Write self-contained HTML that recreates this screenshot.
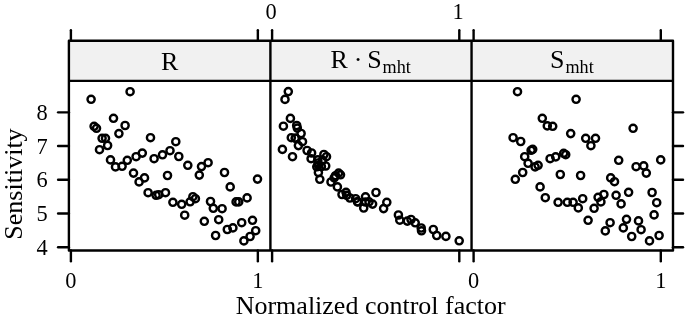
<!DOCTYPE html>
<html><head><meta charset="utf-8"><title>plot</title>
<style>
html,body{margin:0;padding:0;background:#fff;}
svg{display:block;font-family:"Liberation Serif",serif;fill:#000;}
.ln{stroke-linejoin:round;stroke:#000;stroke-width:2.4;fill:none;stroke-linecap:butt}
.tk{stroke-linecap:round}
.pt circle{fill:none;stroke:#000;stroke-width:2.4}
</style></head><body>
<svg width="685" height="320" viewBox="0 0 685 320">
<rect x="0" y="0" width="685" height="320" fill="#fff"/>
<rect x="68.9" y="40.8" width="604.1" height="40.10000000000001" fill="#f1f1f1"/>
<rect class="ln" x="68.9" y="40.8" width="604.1" height="209.7"/>
<line class="ln" x1="68.9" y1="80.9" x2="673" y2="80.9"/>
<line class="ln" x1="270.4" y1="40.8" x2="270.4" y2="250.5"/>
<line class="ln" x1="471.55" y1="40.8" x2="471.55" y2="250.5"/>
<line class="ln tk" x1="70.9" y1="40.8" x2="70.9" y2="30.3"/>
<line class="ln tk" x1="70.9" y1="250.5" x2="70.9" y2="261.3"/>
<line class="ln tk" x1="257.85" y1="40.8" x2="257.85" y2="30.3"/>
<line class="ln tk" x1="257.85" y1="250.5" x2="257.85" y2="261.3"/>
<line class="ln tk" x1="272.1" y1="40.8" x2="272.1" y2="30.3"/>
<line class="ln tk" x1="272.1" y1="250.5" x2="272.1" y2="261.3"/>
<line class="ln tk" x1="459.3" y1="40.8" x2="459.3" y2="30.3"/>
<line class="ln tk" x1="459.3" y1="250.5" x2="459.3" y2="261.3"/>
<line class="ln tk" x1="473.6" y1="40.8" x2="473.6" y2="30.3"/>
<line class="ln tk" x1="473.6" y1="250.5" x2="473.6" y2="261.3"/>
<line class="ln tk" x1="660.8" y1="40.8" x2="660.8" y2="30.3"/>
<line class="ln tk" x1="660.8" y1="250.5" x2="660.8" y2="261.3"/>
<line class="ln tk" x1="68.9" y1="112.35" x2="58.1" y2="112.35"/>
<line class="ln tk" x1="673" y1="112.35" x2="683.0" y2="112.35"/>
<text transform="translate(42,119.8) scale(0.945,1)" font-size="23.7" text-anchor="middle">8</text>
<line class="ln tk" x1="68.9" y1="146.06" x2="58.1" y2="146.06"/>
<line class="ln tk" x1="673" y1="146.06" x2="683.0" y2="146.06"/>
<text transform="translate(42,153.51) scale(0.945,1)" font-size="23.7" text-anchor="middle">7</text>
<line class="ln tk" x1="68.9" y1="179.78" x2="58.1" y2="179.78"/>
<line class="ln tk" x1="673" y1="179.78" x2="683.0" y2="179.78"/>
<text transform="translate(42,187.23) scale(0.945,1)" font-size="23.7" text-anchor="middle">6</text>
<line class="ln tk" x1="68.9" y1="213.49" x2="58.1" y2="213.49"/>
<line class="ln tk" x1="673" y1="213.49" x2="683.0" y2="213.49"/>
<text transform="translate(42,220.94) scale(0.945,1)" font-size="23.7" text-anchor="middle">5</text>
<line class="ln tk" x1="68.9" y1="247.2" x2="58.1" y2="247.2"/>
<line class="ln tk" x1="673" y1="247.2" x2="683.0" y2="247.2"/>
<text transform="translate(42,254.65) scale(0.945,1)" font-size="23.7" text-anchor="middle">4</text>
<text transform="translate(70.8,287.7) scale(0.945,1)" font-size="23.7" text-anchor="middle">0</text>
<text transform="translate(257.8,287.7) scale(0.945,1)" font-size="23.7" text-anchor="middle">1</text>
<text transform="translate(473.6,287.7) scale(0.945,1)" font-size="23.7" text-anchor="middle">0</text>
<text transform="translate(660.8,287.7) scale(0.945,1)" font-size="23.7" text-anchor="middle">1</text>
<text transform="translate(271,18.8) scale(0.945,1)" font-size="23.7" text-anchor="middle">0</text>
<text transform="translate(458,18.8) scale(0.945,1)" font-size="23.7" text-anchor="middle">1</text>
<text x="370.7" y="314" font-size="26" text-anchor="middle">Normalized control factor</text>
<text transform="translate(21.6,184.0) rotate(-90)" font-size="26" text-anchor="middle">Sensitivity</text>
<text x="169.7" y="70" font-size="26" text-anchor="middle">R</text>
<text y="68" font-size="26"><tspan x="330.5">R</tspan><tspan x="353.8">·</tspan><tspan x="367.2">S</tspan><tspan x="382.6" font-size="18.2" dy="5">mht</tspan></text>
<text y="68" font-size="26"><tspan x="550">S</tspan><tspan x="565.4" font-size="18.2" dy="5">mht</tspan></text>
<g class="pt">
<circle cx="91.1" cy="99.3" r="3.6"/>
<circle cx="130.1" cy="91.7" r="3.6"/>
<circle cx="113.5" cy="118.3" r="3.6"/>
<circle cx="94.1" cy="126.3" r="3.6"/>
<circle cx="96.5" cy="128.3" r="3.6"/>
<circle cx="125.1" cy="125.5" r="3.6"/>
<circle cx="118.9" cy="133.6" r="3.6"/>
<circle cx="102.1" cy="138.3" r="3.6"/>
<circle cx="105.5" cy="138.3" r="3.6"/>
<circle cx="150.5" cy="137.7" r="3.6"/>
<circle cx="175.8" cy="141.7" r="3.6"/>
<circle cx="107.6" cy="145.5" r="3.6"/>
<circle cx="99.5" cy="149.7" r="3.6"/>
<circle cx="110.5" cy="159.9" r="3.6"/>
<circle cx="115.5" cy="166.9" r="3.6"/>
<circle cx="122.1" cy="166.3" r="3.6"/>
<circle cx="127.3" cy="160.3" r="3.6"/>
<circle cx="136.1" cy="156.7" r="3.6"/>
<circle cx="142.3" cy="153.1" r="3.6"/>
<circle cx="154.1" cy="158.7" r="3.6"/>
<circle cx="162.5" cy="154.8" r="3.6"/>
<circle cx="170.0" cy="150.7" r="3.6"/>
<circle cx="178.8" cy="156.5" r="3.6"/>
<circle cx="187.8" cy="165.3" r="3.6"/>
<circle cx="201.5" cy="166.6" r="3.6"/>
<circle cx="208.1" cy="162.7" r="3.6"/>
<circle cx="199.3" cy="175.1" r="3.6"/>
<circle cx="167.5" cy="175.5" r="3.6"/>
<circle cx="133.5" cy="173.1" r="3.6"/>
<circle cx="144.5" cy="177.9" r="3.6"/>
<circle cx="139.1" cy="181.9" r="3.6"/>
<circle cx="224.5" cy="172.5" r="3.6"/>
<circle cx="257.5" cy="179.1" r="3.6"/>
<circle cx="230.2" cy="186.9" r="3.6"/>
<circle cx="148.1" cy="192.7" r="3.6"/>
<circle cx="156.1" cy="195.3" r="3.6"/>
<circle cx="158.7" cy="194.7" r="3.6"/>
<circle cx="165.5" cy="192.7" r="3.6"/>
<circle cx="172.9" cy="202.3" r="3.6"/>
<circle cx="181.7" cy="204.3" r="3.6"/>
<circle cx="190.1" cy="201.8" r="3.6"/>
<circle cx="192.9" cy="196.7" r="3.6"/>
<circle cx="195.4" cy="198.7" r="3.6"/>
<circle cx="184.7" cy="215.2" r="3.6"/>
<circle cx="210.5" cy="201.5" r="3.6"/>
<circle cx="213.3" cy="208.3" r="3.6"/>
<circle cx="222.1" cy="208.7" r="3.6"/>
<circle cx="236.1" cy="201.9" r="3.6"/>
<circle cx="238.7" cy="201.9" r="3.6"/>
<circle cx="247.1" cy="197.9" r="3.6"/>
<circle cx="204.3" cy="221.3" r="3.6"/>
<circle cx="218.7" cy="219.7" r="3.6"/>
<circle cx="227.3" cy="229.5" r="3.6"/>
<circle cx="232.9" cy="227.9" r="3.6"/>
<circle cx="241.7" cy="222.7" r="3.6"/>
<circle cx="252.5" cy="220.3" r="3.6"/>
<circle cx="215.6" cy="235.5" r="3.6"/>
<circle cx="255.7" cy="230.7" r="3.6"/>
<circle cx="250.1" cy="236.5" r="3.6"/>
<circle cx="243.9" cy="240.9" r="3.6"/>
<circle cx="288.3" cy="91.6" r="3.6"/>
<circle cx="285.0" cy="99.4" r="3.6"/>
<circle cx="290.4" cy="118.4" r="3.6"/>
<circle cx="296.7" cy="125.5" r="3.6"/>
<circle cx="283.4" cy="126.2" r="3.6"/>
<circle cx="297.3" cy="128.1" r="3.6"/>
<circle cx="301.1" cy="133.5" r="3.6"/>
<circle cx="291.3" cy="137.7" r="3.6"/>
<circle cx="295.3" cy="138.2" r="3.6"/>
<circle cx="295.5" cy="138.2" r="3.6"/>
<circle cx="302.5" cy="141.7" r="3.6"/>
<circle cx="298.4" cy="145.6" r="3.6"/>
<circle cx="282.4" cy="149.4" r="3.6"/>
<circle cx="307.1" cy="150.5" r="3.6"/>
<circle cx="311.6" cy="153.0" r="3.6"/>
<circle cx="323.9" cy="154.5" r="3.6"/>
<circle cx="326.5" cy="156.7" r="3.6"/>
<circle cx="292.5" cy="156.7" r="3.6"/>
<circle cx="311.1" cy="158.7" r="3.6"/>
<circle cx="317.8" cy="159.9" r="3.6"/>
<circle cx="322.5" cy="160.3" r="3.6"/>
<circle cx="318.0" cy="163.0" r="3.6"/>
<circle cx="318.4" cy="165.3" r="3.6"/>
<circle cx="325.7" cy="166.0" r="3.6"/>
<circle cx="321.4" cy="166.7" r="3.6"/>
<circle cx="316.8" cy="166.8" r="3.6"/>
<circle cx="318.4" cy="172.6" r="3.6"/>
<circle cx="338.6" cy="173.1" r="3.6"/>
<circle cx="340.5" cy="174.8" r="3.6"/>
<circle cx="335.5" cy="175.7" r="3.6"/>
<circle cx="334.2" cy="177.9" r="3.6"/>
<circle cx="319.8" cy="179.3" r="3.6"/>
<circle cx="331.0" cy="182.0" r="3.6"/>
<circle cx="337.4" cy="186.9" r="3.6"/>
<circle cx="346.0" cy="192.3" r="3.6"/>
<circle cx="376.0" cy="192.5" r="3.6"/>
<circle cx="342.0" cy="194.5" r="3.6"/>
<circle cx="346.7" cy="195.3" r="3.6"/>
<circle cx="365.5" cy="196.8" r="3.6"/>
<circle cx="349.9" cy="198.0" r="3.6"/>
<circle cx="355.6" cy="198.7" r="3.6"/>
<circle cx="357.5" cy="201.8" r="3.6"/>
<circle cx="365.5" cy="202.0" r="3.6"/>
<circle cx="357.7" cy="201.9" r="3.6"/>
<circle cx="369.0" cy="201.9" r="3.6"/>
<circle cx="386.8" cy="202.3" r="3.6"/>
<circle cx="372.6" cy="204.1" r="3.6"/>
<circle cx="363.7" cy="208.0" r="3.6"/>
<circle cx="383.6" cy="208.6" r="3.6"/>
<circle cx="398.4" cy="215.0" r="3.6"/>
<circle cx="411.0" cy="219.5" r="3.6"/>
<circle cx="399.8" cy="220.2" r="3.6"/>
<circle cx="407.3" cy="221.1" r="3.6"/>
<circle cx="415.2" cy="222.8" r="3.6"/>
<circle cx="421.2" cy="228.0" r="3.6"/>
<circle cx="433.3" cy="229.5" r="3.6"/>
<circle cx="421.5" cy="230.8" r="3.6"/>
<circle cx="436.7" cy="235.5" r="3.6"/>
<circle cx="445.9" cy="236.4" r="3.6"/>
<circle cx="459.2" cy="240.8" r="3.6"/>
<circle cx="517.5" cy="91.7" r="3.6"/>
<circle cx="576.1" cy="99.3" r="3.6"/>
<circle cx="542.3" cy="118.3" r="3.6"/>
<circle cx="547.3" cy="125.9" r="3.6"/>
<circle cx="552.7" cy="126.3" r="3.6"/>
<circle cx="570.7" cy="133.6" r="3.6"/>
<circle cx="513.1" cy="137.7" r="3.6"/>
<circle cx="520.7" cy="141.5" r="3.6"/>
<circle cx="585.7" cy="138.3" r="3.6"/>
<circle cx="595.5" cy="138.3" r="3.6"/>
<circle cx="590.9" cy="145.7" r="3.6"/>
<circle cx="531.1" cy="150.3" r="3.6"/>
<circle cx="532.7" cy="149.3" r="3.6"/>
<circle cx="524.7" cy="156.7" r="3.6"/>
<circle cx="528.1" cy="163.3" r="3.6"/>
<circle cx="535.1" cy="166.9" r="3.6"/>
<circle cx="538.1" cy="165.3" r="3.6"/>
<circle cx="550.1" cy="158.7" r="3.6"/>
<circle cx="555.7" cy="156.9" r="3.6"/>
<circle cx="563.7" cy="153.3" r="3.6"/>
<circle cx="565.7" cy="154.7" r="3.6"/>
<circle cx="522.7" cy="172.5" r="3.6"/>
<circle cx="515.3" cy="179.3" r="3.6"/>
<circle cx="560.3" cy="174.5" r="3.6"/>
<circle cx="580.6" cy="175.5" r="3.6"/>
<circle cx="540.1" cy="186.9" r="3.6"/>
<circle cx="545.3" cy="197.7" r="3.6"/>
<circle cx="558.1" cy="202.3" r="3.6"/>
<circle cx="567.3" cy="202.3" r="3.6"/>
<circle cx="573.1" cy="202.3" r="3.6"/>
<circle cx="582.7" cy="198.7" r="3.6"/>
<circle cx="578.3" cy="207.9" r="3.6"/>
<circle cx="594.1" cy="208.3" r="3.6"/>
<circle cx="598.1" cy="197.3" r="3.6"/>
<circle cx="600.9" cy="201.9" r="3.6"/>
<circle cx="603.9" cy="194.5" r="3.6"/>
<circle cx="588.1" cy="220.3" r="3.6"/>
<circle cx="605.3" cy="230.9" r="3.6"/>
<circle cx="633.1" cy="128.3" r="3.6"/>
<circle cx="618.7" cy="160.3" r="3.6"/>
<circle cx="660.7" cy="159.9" r="3.6"/>
<circle cx="636.1" cy="166.7" r="3.6"/>
<circle cx="643.7" cy="165.9" r="3.6"/>
<circle cx="646.3" cy="173.1" r="3.6"/>
<circle cx="610.7" cy="177.9" r="3.6"/>
<circle cx="614.5" cy="181.7" r="3.6"/>
<circle cx="616.1" cy="195.3" r="3.6"/>
<circle cx="621.1" cy="203.9" r="3.6"/>
<circle cx="628.6" cy="192.3" r="3.6"/>
<circle cx="652.1" cy="192.5" r="3.6"/>
<circle cx="656.7" cy="202.7" r="3.6"/>
<circle cx="654.1" cy="214.9" r="3.6"/>
<circle cx="610.1" cy="222.7" r="3.6"/>
<circle cx="626.5" cy="219.3" r="3.6"/>
<circle cx="623.3" cy="227.9" r="3.6"/>
<circle cx="638.5" cy="220.9" r="3.6"/>
<circle cx="641.1" cy="229.7" r="3.6"/>
<circle cx="631.7" cy="236.5" r="3.6"/>
<circle cx="659.1" cy="235.5" r="3.6"/>
<circle cx="649.5" cy="240.9" r="3.6"/>
</g>
</svg></body></html>
